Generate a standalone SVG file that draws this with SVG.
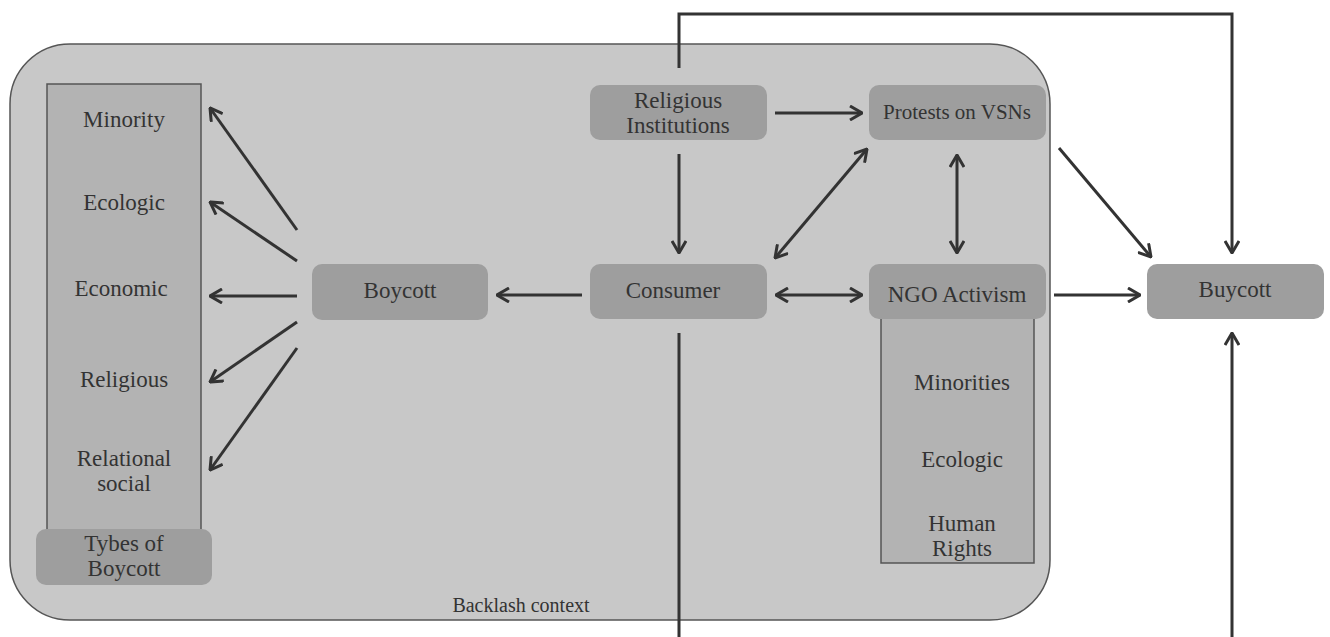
<svg xmlns="http://www.w3.org/2000/svg" width="1330" height="637" viewBox="0 0 1330 637" font-family="Liberation Serif, Times New Roman, serif">
<style>
text{font-size:23px;fill:#333;text-anchor:middle}
.node{fill:#9e9e9e}
.list{fill:#b3b3b3;stroke:#555;stroke-width:1.5}
.c{stroke:#333;stroke-width:3;fill:none}
</style>
<defs>
<marker id="ah" viewBox="0 0 14 16" refX="13" refY="8" markerWidth="14" markerHeight="16" markerUnits="userSpaceOnUse" orient="auto-start-reverse">
<path d="M1,1 L13,8 L1,15" fill="none" stroke="#333" stroke-width="3"/>
</marker>
</defs>
<rect width="1330" height="637" fill="#fff"/>
<g id="backlash">
<rect x="10" y="44" width="1040" height="576" rx="60" fill="#c8c8c8" stroke="#555" stroke-width="1.5"/>
<text x="521" y="612" style="font-size:20px">Backlash context</text>
</g>
<g id="types">
<rect class="list" x="47" y="84" width="154" height="446"/>
<text x="124" y="127">Minority</text>
<text x="124" y="210">Ecologic</text>
<text x="121" y="296">Economic</text>
<text x="124" y="387">Religious</text>
<text x="124" y="466">Relational</text>
<text x="124" y="491">social</text>
</g>
<g id="types-label">
<rect class="node" x="36" y="529" width="176" height="56" rx="10"/>
<text x="124" y="551">Tybes of</text>
<text x="124" y="576">Boycott</text>
</g>
<g id="boycott">
<rect class="node" x="312" y="264" width="176" height="56" rx="10"/>
<text x="400" y="298">Boycott</text>
</g>
<g id="consumer">
<rect class="node" x="590" y="264" width="177" height="55" rx="10"/>
<text x="673" y="298">Consumer</text>
</g>
<g id="religious">
<rect class="node" x="590" y="85" width="177" height="55" rx="10"/>
<text x="678" y="108">Religious</text>
<text x="678" y="133">Institutions</text>
</g>
<g id="protests">
<rect class="node" x="869" y="85" width="177" height="55" rx="10"/>
<text x="957" y="119" style="font-size:21px">Protests on VSNs</text>
</g>
<g id="ngo-list">
<rect class="list" x="881" y="315" width="153" height="248"/>
<text x="962" y="390">Minorities</text>
<text x="962" y="467">Ecologic</text>
<text x="962" y="531">Human</text>
<text x="962" y="556">Rights</text>
</g>
<g id="ngo">
<rect class="node" x="869" y="264" width="177" height="55" rx="10"/>
<text x="957" y="302">NGO Activism</text>
</g>
<g id="buycott">
<rect class="node" x="1147" y="264" width="177" height="55" rx="10"/>
<text x="1235" y="297">Buycott</text>
</g>
<g id="connectors">
<line class="c" x1="297" y1="230" x2="210" y2="108" marker-end="url(#ah)"/>
<line class="c" x1="297" y1="261" x2="210" y2="202" marker-end="url(#ah)"/>
<line class="c" x1="297" y1="296" x2="210" y2="296" marker-end="url(#ah)"/>
<line class="c" x1="297" y1="322" x2="210" y2="382" marker-end="url(#ah)"/>
<line class="c" x1="297" y1="348" x2="210" y2="470" marker-end="url(#ah)"/>
<line class="c" x1="582" y1="295" x2="497" y2="295" marker-end="url(#ah)"/>
<polyline class="c" points="679,68 679,14 1232,14 1232,253" marker-end="url(#ah)"/>
<line class="c" x1="775" y1="113" x2="862" y2="113" marker-end="url(#ah)"/>
<line class="c" x1="679" y1="154" x2="679" y2="253" marker-end="url(#ah)"/>
<line class="c" x1="775" y1="258" x2="867" y2="149" marker-start="url(#ah)" marker-end="url(#ah)"/>
<line class="c" x1="957" y1="155" x2="957" y2="253" marker-start="url(#ah)" marker-end="url(#ah)"/>
<line class="c" x1="776" y1="295" x2="862" y2="295" marker-start="url(#ah)" marker-end="url(#ah)"/>
<line class="c" x1="1059" y1="148" x2="1151" y2="257" marker-end="url(#ah)"/>
<line class="c" x1="1054" y1="295" x2="1140" y2="295" marker-end="url(#ah)"/>
<line class="c" x1="679" y1="333" x2="679" y2="637"/>
<line class="c" x1="1232" y1="637" x2="1232" y2="333" marker-end="url(#ah)"/>
</g>
</svg>
